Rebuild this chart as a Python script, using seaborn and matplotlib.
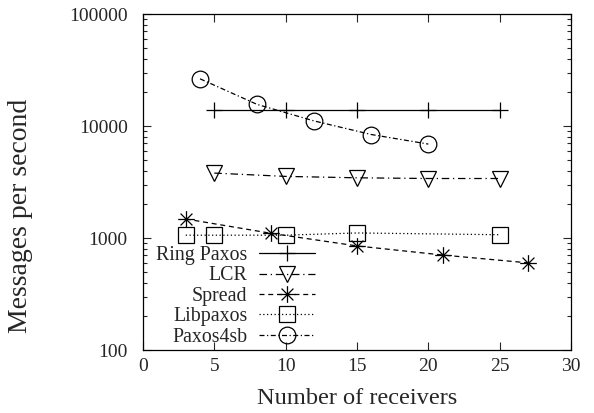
import numpy as np
import pandas as pd
import matplotlib
matplotlib.use("Agg")
import matplotlib.pyplot as plt
from matplotlib.path import Path
import seaborn as sns

# ---- data ----
ring_x = [5, 10, 15, 20, 25]
ring_y = [14000, 14000, 14000, 14000, 14000]
lcr_x = [5, 10, 15, 20, 25]
lcr_y = [3800, 3550, 3450, 3400, 3400]
spread_x = [3, 9, 15, 21, 27]
spread_y = [1480, 1100, 850, 705, 600]
lib_x = [3, 5, 10, 15, 25]
lib_y = [1060, 1060, 1060, 1110, 1070]
p4sb_x = [4, 8, 12, 16, 20]
p4sb_y = [26400, 15600, 11100, 8400, 6900]
x_ticks = [0, 5, 10, 15, 20, 25, 30]
y_ticks = [100, 1000, 10000, 100000]

sns.set_style("ticks")
plt.rcParams["font.family"] = ["Liberation Serif", "DejaVu Serif"]

fig = plt.figure(figsize=(5.94, 4.13), dpi=100)
ax = fig.add_axes([0.2407, 0.1525, 0.7206, 0.8135])

star = Path([(-1, 0), (1, 0), (0, -1), (0, 1), (-0.71, -0.71), (0.71, 0.71), (-0.71, 0.71), (0.71, -0.71)],
            [Path.MOVETO, Path.LINETO] * 4)

series = [
    ("Ring Paxos", ring_x, ring_y, "+", "-", 11),
    ("LCR", lcr_x, lcr_y, "v", (0, (6, 3, 1, 3)), 12),
    ("Spread", spread_x, spread_y, star, (0, (4, 3)), 12),
    ("Libpaxos", lib_x, lib_y, "s", (0, (1, 2)), 12),
    ("Paxos4sb", p4sb_x, p4sb_y, "o", (0, (4, 2, 1, 2)), 12),
]
for name, xs, ys, mk, ls, ms in series:
    df = pd.DataFrame({"x": xs, "y": ys})
    sns.lineplot(data=df, x="x", y="y", ax=ax, color="black", linewidth=0.9,
                 linestyle=ls, marker=mk, markersize=ms, markerfacecolor="none",
                 markeredgecolor="black", markeredgewidth=0.9, label=name)

ax.set_yscale("log")
ax.set_xlim(0, 30)
ax.set_ylim(100, 100000)
ax.set_xticks(x_ticks)
ax.set_xticklabels([str(t) for t in x_ticks])
ax.set_yticks(y_ticks)
ax.set_yticklabels([str(t) for t in y_ticks])
ax.tick_params(axis="both", which="both", direction="in", top=True, right=True,
               labelsize=14, width=0.8, pad=6)
ax.tick_params(axis="y", which="both", pad=11)
ax.tick_params(which="major", length=6)
ax.tick_params(which="minor", length=3)
ax.tick_params(axis="x", which="minor", bottom=False, top=False)
for s in ax.spines.values():
    s.set_linewidth(0.9)
    s.set_color("black")
ax.set_xlabel("Number of receivers", fontsize=17.6)
ax.set_ylabel("Messages per second", fontsize=20)
ax.xaxis.set_label_coords(0.5, -0.113)
ax.yaxis.set_label_coords(-0.257, 0.40)

leg = ax.legend(loc="lower right", bbox_to_anchor=(0.402, 0.01), markerfirst=False,
                frameon=False, fontsize=14.3, handlelength=2.8, handletextpad=0.6,
                labelspacing=0.07, borderpad=0, borderaxespad=0)

fig.savefig("out.png", dpi=100)
